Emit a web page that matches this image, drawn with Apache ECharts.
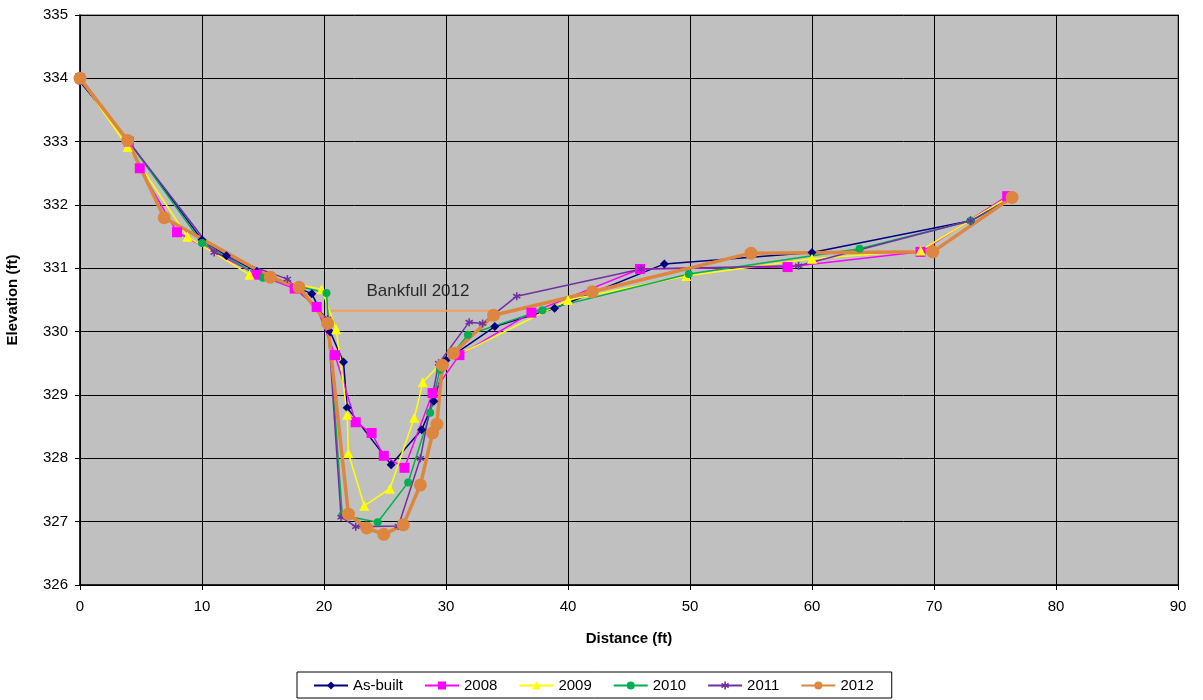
<!DOCTYPE html>
<html><head><meta charset="utf-8">
<script src="https://cdn.jsdelivr.net/npm/echarts@6/dist/echarts.min.js"></script>
<style>html,body{margin:0;padding:0;background:#fff}#c{width:1203px;height:700px}</style>
</head><body><div id="c"></div>
<script>
const seriesNames = ['As-built','2008','2009','2010','2011','2012'];
const asBuilt = [[0,333.95],[4,333.0],[10,331.45],[12,331.2],[14.5,330.95],[19,330.6],[20.5,330.0],[21.6,329.52],[21.9,328.8],[25.5,327.9],[28,328.45],[29,328.9],[30,329.55],[34,330.08],[38.9,330.37],[47.9,331.07],[60,331.25],[73,331.75],[76.4,332.12]];
const y2008 = [[0,334.0],[4,333.0],[4.9,332.58],[7.95,331.57],[14.5,330.9],[17.6,330.68],[19.4,330.39],[20.9,329.63],[22.6,328.57],[23.9,328.4],[24.9,328.04],[26.6,327.85],[28.9,329.03],[31.1,329.63],[37.0,330.3],[45.9,330.99],[58,331.02],[68.9,331.26],[76,332.14]];
const y2009 = [[0,334.0],[3.9,332.92],[8.8,331.5],[13.9,330.9],[19.8,330.67],[21,330.04],[21.9,328.69],[22,328.08],[23.3,327.25],[25.4,327.52],[27.4,328.64],[28.1,329.2],[29.6,329.5],[40,330.5],[49.7,330.88],[60,331.15],[68.9,331.28],[76.3,332.15]];
const y2010 = [[0,334.0],[4,333.0],[10,331.4],[15,330.85],[20.2,330.61],[21.5,327.1],[24.4,326.99],[26.9,327.62],[28.7,328.72],[29.5,329.4],[31.8,329.95],[37.9,330.34],[49.9,330.91],[63.9,331.31],[73,331.75],[76.3,332.1]];
const y2011 = [[0,334.0],[4,333.0],[11,331.25],[17,330.83],[20.3,330.2],[21.4,327.07],[22.6,326.92],[26.1,326.93],[27.9,328.0],[29.4,329.5],[31.9,330.15],[33,330.13],[35.8,330.56],[46,330.99],[58.9,331.04],[73,331.75],[76.3,332.1]];
const y2012 = [[0,334.0],[3.9,333.02],[6.9,331.8],[15.6,330.86],[17.95,330.7],[20.3,330.13],[22.0,327.12],[23.5,326.9],[24.9,326.8],[26.5,326.95],[27.9,327.58],[28.9,328.4],[29.25,328.54],[29.7,329.47],[30.6,329.66],[33.9,330.26],[42.0,330.63],[55.0,331.24],[69.9,331.26],[76.4,332.12]];
const bankfull = [[20.3,330.33],[33.9,330.33]];
const bankfullLabel = 'Bankfull 2012';
const bankfullLabelPos = [[27.7,330.63]];

const font = 'Arial, "Liberation Sans", sans-serif';
const chart = echarts.init(document.getElementById('c'));
function ser(name, data, color, symbol, size, width){
  return {name, type:'line', data, symbol, symbolSize:size, showSymbol:true,
    lineStyle:{color, width}, itemStyle:{color, borderWidth:0}, z: 3, animation:false};
}
const star = 'path://M4,0L6,0L6,3.5L9,1.7L10,3.4L7,5L10,6.6L9,8.3L6,6.5L6,10L4,10L4,6.5L1,8.3L0,6.6L3,5L0,3.4L1,1.7L4,3.5Z';
chart.setOption({
  animation:false,
  backgroundColor:'#ffffff',
  grid:{left:80, right:25, top:15, bottom:115, outerBoundsMode:'none', containLabel:false, show:true, backgroundColor:'#c0c0c0', borderColor:'#808080', borderWidth:1.5},
  xAxis:{type:'value', min:0, max:90, interval:10, name:'Distance (ft)', nameLocation:'middle', nameGap:46,
    nameTextStyle:{fontFamily:font, fontWeight:'bold', fontSize:15, color:'#000'},
    axisLine:{show:true, lineStyle:{color:'#000', width:1.5}}, axisTick:{show:true, length:5, lineStyle:{color:'#000'}},
    axisLabel:{fontFamily:font, fontSize:15, color:'#000', margin:14},
    splitLine:{show:true, lineStyle:{color:'#000', width:1}}},
  yAxis:{type:'value', min:326, max:335, interval:1, name:'Elevation (ft)', nameLocation:'middle', nameGap:60,
    nameTextStyle:{fontFamily:font, fontWeight:'bold', fontSize:15, color:'#000'},
    axisLine:{show:true, lineStyle:{color:'#000', width:1.5}}, axisTick:{show:true, length:5, lineStyle:{color:'#000'}},
    axisLabel:{fontFamily:font, fontSize:15, color:'#000', margin:12},
    splitLine:{show:true, lineStyle:{color:'#000', width:1}}},
  legend:{data:seriesNames, left:297, top:672, borderColor:'#000', borderWidth:1, padding:[6,18,5,16],
    itemWidth:34, itemHeight:10, itemGap:21, textStyle:{fontFamily:font, fontSize:15, color:'#000'}},
  series:[
    ser('As-built', asBuilt, '#000080', 'diamond', 9, 1.5),
    ser('2008', y2008, '#ff00ff', 'rect', 10, 1.5),
    ser('2009', y2009, '#ffff00', 'triangle', 10, 1.5),
    ser('2010', y2010, '#00b050', 'circle', 8, 1.5),
    ser('2011', y2011, '#7030a0', star, 8, 1.5),
    ser('2012', y2012, '#dd8640', 'circle', 13, 3.5),
    {name:'Bankfull', type:'line', data:bankfull, symbol:'none', lineStyle:{color:'#f0a060', width:2}, z:2},
    {name:'BankfullLabel', type:'scatter', data:bankfullLabelPos, symbolSize:0,
      label:{show:true, position:'inside', formatter:bankfullLabel, fontFamily:font, fontSize:17, color:'#000'}}
  ]
});
</script></body></html>
